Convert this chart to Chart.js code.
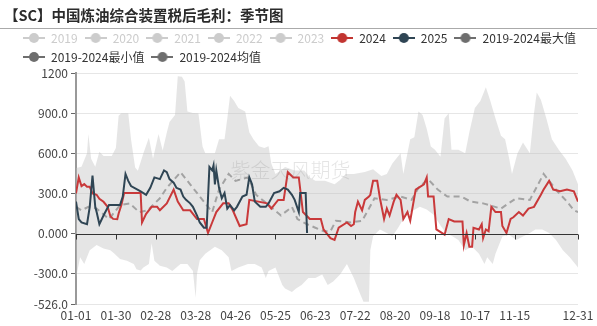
<!DOCTYPE html>
<html>
<head>
<meta charset="utf-8">
<script src="https://cdn.jsdelivr.net/npm/chart.js@4.4.1/dist/chart.umd.min.js"></script>
<style>
  html, body { margin: 0; padding: 0; background: #fff; }
  #wrap { position: relative; width: 597px; height: 326px; overflow: hidden; }
  #title { position: absolute; left: 4px; top: 4px; font: bold 14.5px "Noto Sans CJK SC", sans-serif; color: #2b2b2b; white-space: nowrap; }
  #rule { position: absolute; left: 0; top: 28px; width: 597px; height: 1px; background: #aaa; }
  canvas { position: absolute; left: 0; top: 0; }
</style>
</head>
<body>
<div id="wrap">
  <canvas id="chart" width="597" height="326"></canvas>
  <div id="title">【SC】中国炼油综合装置税后毛利：季节图</div>
  <div id="rule"></div>
</div>
<script>
// axis ticks (day of year, 2024 calendar)
const xTickDays = [0, 29, 58, 87, 116, 145, 174, 203, 232, 261, 290, 319, 365];
const xTickLabels = ["01-01", "01-30", "02-28", "03-28", "04-26", "05-25", "06-23", "07-22", "08-20", "09-18", "10-17", "11-15", "12-31"];
const yTickValues = [1200, 900, 600, 300, 0, -300, -526];
const yTickLabels = ["1200", "900.0", "600.0", "300.0", "0.000", "-300.0", "-526.0"];

const greyYears = ["2019", "2020", "2021", "2022", "2023"];

// 2024
const days2024 = [0, 2, 4, 6, 8, 10, 12, 15, 17, 20, 23, 25, 27, 30, 31, 33, 35, 47, 48, 51, 55, 59, 61, 66, 71, 74, 78, 83, 88, 93, 96, 99, 102, 107, 111, 114, 119, 124, 126, 139, 142, 147, 151, 154, 158, 162, 165, 170, 178, 180, 185, 188, 191, 197, 200, 202, 203, 205, 208, 210, 213, 214, 216, 219, 221, 224, 226, 228, 231, 233, 236, 238, 241, 243, 247, 249, 253, 255, 256, 260, 262, 266, 268, 271, 275, 281, 282, 284, 286, 288, 289, 293, 295, 296, 298, 300, 302, 305, 309, 310, 313, 316, 318, 322, 325, 329, 333, 338, 340, 344, 347, 352, 357, 362, 365];
const vals2024 = [300, 420, 355, 370, 350, 350, 300, 290, 260, 238, 200, 130, 110, 107, 150, 213, 303, 303, 83, 148, 200, 200, 174, 226, 329, 239, 174, 174, 109, 109, 5, 83, 161, 226, 226, 174, 57, 70, 252, 226, 187, 252, 252, 459, 420, 420, 161, 109, 109, 31, -34, -47, 44, 83, 57, 70, 161, 239, 174, 252, 277, 290, 394, 394, 264, 109, 187, 135, 239, 290, 252, 109, 161, 96, 329, 342, 368, 420, 277, 277, 31, 5, -8, 109, 91, 91, -86, 5, -98, -98, 44, 31, 70, -34, 31, 18, 200, 161, 161, 57, 5, 109, 122, 161, 135, 187, 200, 290, 329, 394, 329, 316, 329, 316, 239];

// 2025
const days2025 = [0, 2, 4, 8, 10, 12, 14, 15, 17, 20, 24, 32, 34, 36, 38, 40, 47, 51, 54, 57, 61, 64, 66, 68, 71, 73, 76, 78, 80, 83, 85, 88, 90, 93, 95, 97, 99, 100, 101, 102, 104, 106, 108, 110, 112, 115, 117, 121, 124, 126, 128, 130, 134, 138, 140, 144, 148, 151, 154, 157, 159, 162, 163, 167, 168];
const vals2025 = [239, 109, 83, 70, 200, 433, 200, 161, 70, 135, 213, 213, 277, 446, 394, 355, 316, 290, 342, 420, 407, 472, 459, 407, 381, 342, 329, 277, 252, 226, 200, 135, 83, 44, 44, 498, 472, 511, 368, 472, 342, 264, 303, 187, 213, 174, 200, 277, 290, 420, 368, 239, 200, 200, 226, 303, 316, 342, 329, 290, 252, 161, 303, 303, 5];

// 2019-2024 max
const maxDays = [0, 4, 8, 9, 11, 14, 17, 20, 26, 29, 31, 33, 38, 40, 43, 45, 49, 53, 56, 60, 63, 66, 68, 72, 74, 77, 79, 81, 85, 89, 92, 94, 101, 104, 108, 110, 112, 115, 118, 123, 126, 129, 133, 137, 140, 142, 145, 149, 152, 159, 166, 170, 174, 181, 188, 192, 196, 202, 210, 216, 222, 226, 230, 236, 238, 243, 246, 249, 252, 255, 258, 261, 265, 268, 271, 273, 278, 283, 286, 290, 294, 298, 301, 305, 309, 312, 315, 317, 321, 325, 330, 333, 335, 338, 342, 346, 351, 356, 361, 365];
const maxVals = [490, 500, 600, 745, 560, 500, 612, 580, 580, 640, 880, 900, 900, 705, 494, 470, 600, 716, 560, 745, 620, 753, 834, 886, 1176, 1172, 1137, 912, 902, 900, 650, 600, 600, 705, 705, 860, 1030, 990, 938, 912, 757, 705, 653, 640, 653, 524, 446, 472, 498, 472, 472, 420, 394, 394, 368, 400, 446, 446, 460, 480, 430, 446, 524, 600, 446, 705, 720, 912, 886, 783, 650, 627, 575, 860, 900, 627, 627, 600, 757, 938, 990, 1094, 1000, 860, 731, 705, 560, 446, 600, 680, 600, 900, 1055, 1000, 860, 705, 627, 560, 472, 368];

// 2019-2024 min
const minDays = [0, 3, 6, 10, 15, 20, 25, 28, 32, 37, 42, 44, 47, 49, 53, 55, 57, 61, 66, 70, 76, 81, 85, 87, 88, 90, 94, 101, 106, 111, 113, 118, 125, 130, 135, 138, 140, 145, 150, 152, 157, 160, 164, 169, 174, 179, 183, 187, 192, 197, 202, 204, 207, 209, 213, 214, 216, 221, 226, 230, 234, 238, 243, 250, 255, 260, 265, 269, 274, 278, 283, 288, 293, 297, 299, 303, 305, 310, 315, 320, 325, 330, 334, 339, 344, 349, 354, 359, 363, 365];
const minVals = [-332, -176, -228, -124, -85, -111, -124, -150, -189, -202, -228, -267, -275, -254, -228, -73, -202, -241, -254, -280, -228, -228, -280, -480, -300, -200, -150, -98, -124, -176, -280, -254, -228, -228, -254, -332, -280, -254, -384, -410, -436, -410, -384, -332, -332, -306, -384, -358, -306, -228, -332, -384, -461, -510, -510, -124, -20, 31, 5, -20, 40, 110, 160, 200, 180, 140, 60, 5, -21, -47, -124, -98, -150, -228, -176, -228, -150, -21, -8, -47, -21, 5, 31, 31, 5, -47, -124, -176, -228, -254];

// 2019-2024 mean
const meanDays = [0, 4, 9, 15, 24, 32, 39, 46, 52, 61, 66, 76, 83, 89, 94, 99, 104, 111, 116, 125, 131, 137, 143, 149, 157, 161, 168, 174, 180, 185, 189, 200, 208, 213, 217, 226, 236, 244, 249, 256, 263, 270, 280, 287, 296, 309, 320, 330, 340, 350, 357, 362, 365];
const meanVals = [200, 174, 200, 187, 109, 213, 226, 160, 174, 264, 342, 459, 368, 290, 226, 160, 329, 446, 394, 420, 290, 239, 187, 135, 200, 109, 70, 44, 18, 18, 96, 83, 96, 187, 264, 252, 277, 252, 342, 407, 329, 277, 277, 239, 226, 187, 264, 252, 446, 316, 239, 174, 160];

function pts(days, vals) {
  return days.map((d, i) => ({ x: d, y: vals[i] }));
}

// legend icon: short line with a dot in the middle
function makeIcon(color) {
  const c = document.createElement("canvas");
  c.width = 22;
  c.height = 12;
  const g = c.getContext("2d");
  g.strokeStyle = color;
  g.lineWidth = 2;
  g.beginPath();
  g.moveTo(0, 6);
  g.lineTo(22, 6);
  g.stroke();
  g.fillStyle = color;
  g.beginPath();
  g.arc(11, 6, 5, 0, Math.PI * 2);
  g.fill();
  return c;
}

const datasets = greyYears.map(y => ({ label: y, data: [], off: true, iconColor: "#ccc" }));
datasets.push(
  { label: "2024", data: pts(days2024, vals2024), borderColor: "#c9393a", borderWidth: 2, iconColor: "#c23531", order: 1 },
  { label: "2025", data: pts(days2025, vals2025), borderColor: "#2f4554", borderWidth: 2, iconColor: "#2f4554", order: 0 },
  { label: "2019-2024最大值", data: pts(maxDays, maxVals), borderWidth: 0, borderColor: "rgba(0,0,0,0)", fill: "+1", backgroundColor: "rgba(190,190,190,0.4)", iconColor: "#6e6e6e", order: 3 },
  { label: "2019-2024最小值", data: pts(minDays, minVals), borderWidth: 0, borderColor: "rgba(0,0,0,0)", iconColor: "#6e6e6e", order: 4 },
  { label: "2019-2024均值", data: pts(meanDays, meanVals), borderColor: "#a3a3a3", borderWidth: 2, borderDash: [6, 4], iconColor: "#6e6e6e", order: 2 }
);

// zero axis line with its ticks, and the watermark
const overlay = {
  id: "overlay",
  beforeLayout(chart) {
    if (chart.legend) chart.legend.afterFit = function () { this.height = 59; };
  },
  afterDatasetsDraw(chart) {
    const { ctx, chartArea: a, scales: { x, y } } = chart;
    const y0 = Math.round(y.getPixelForValue(0)) + 0.5;
    ctx.save();
    ctx.strokeStyle = "#333";
    ctx.lineWidth = 1;
    ctx.beginPath();
    ctx.moveTo(a.left, y0);
    ctx.lineTo(a.right, y0);
    xTickDays.forEach(d => {
      const px = Math.round(x.getPixelForValue(d)) + 0.5;
      ctx.moveTo(px, y0);
      ctx.lineTo(px, y0 + 5);
    });
    ctx.stroke();
    ctx.font = '300 20px "Noto Sans CJK SC", sans-serif';
    ctx.fillStyle = "rgba(120,120,120,0.2)";
    ctx.textAlign = "center";
    ctx.textBaseline = "middle";
    ctx.fillText("紫金天风期货", x.getPixelForValue(156), y.getPixelForValue(470));
    ctx.restore();
  }
};

const font = { family: '"Noto Sans CJK SC", "Noto Sans", sans-serif', size: 12 };

new Chart(document.getElementById("chart"), {
  type: "line",
  data: { datasets },
  plugins: [overlay],
  options: {
    responsive: false,
    devicePixelRatio: 1,
    animation: false,
    layout: { padding: { top: 25, left: 16, right: 0, bottom: 0 } },
    elements: { point: { radius: 0 }, line: { tension: 0, fill: false } },
    plugins: {
      tooltip: { enabled: false },
      legend: {
        position: "top",
        align: "start",
        labels: {
          usePointStyle: true,
          pointStyleWidth: 22,
          padding: 7,
          font: font,
          generateLabels(chart) {
            return chart.data.datasets.map((ds, i) => ({
              text: ds.label,
              fontColor: ds.off ? "#ccc" : "#333",
              pointStyle: makeIcon(ds.iconColor),
              hidden: false,
              datasetIndex: i,
              lineWidth: 0,
              strokeStyle: "rgba(0,0,0,0)",
              fillStyle: "rgba(0,0,0,0)"
            }));
          }
        }
      }
    },
    scales: {
      x: {
        type: "linear",
        min: 0,
        max: 365,
        grid: { display: false, drawTicks: false },
        border: { display: false },
        afterBuildTicks(s) { s.ticks = xTickDays.map(v => ({ value: v })); },
        afterFit(s) { s.height = 22; s.paddingRight = 19; },
        ticks: {
          autoSkip: false,
          maxRotation: 0,
          padding: 4,
          color: "#444",
          font: font,
          callback: v => xTickLabels[xTickDays.indexOf(v)]
        }
      },
      y: {
        min: -526,
        max: 1200,
        afterBuildTicks(s) { s.ticks = yTickValues.map(v => ({ value: v })); },
        afterFit(s) { s.width = 60; },
        grid: {
          color: c => (c.tick && c.tick.value === 0 ? "rgba(0,0,0,0)" : "#e6e6e6"),
          tickColor: "#666",
          tickLength: 5
        },
        border: { color: "#999", width: 2 },
        ticks: {
          padding: 3,
          color: "#444",
          font: font,
          callback: v => yTickLabels[yTickValues.indexOf(v)]
        }
      }
    }
  }
});
</script>
</body>
</html>
